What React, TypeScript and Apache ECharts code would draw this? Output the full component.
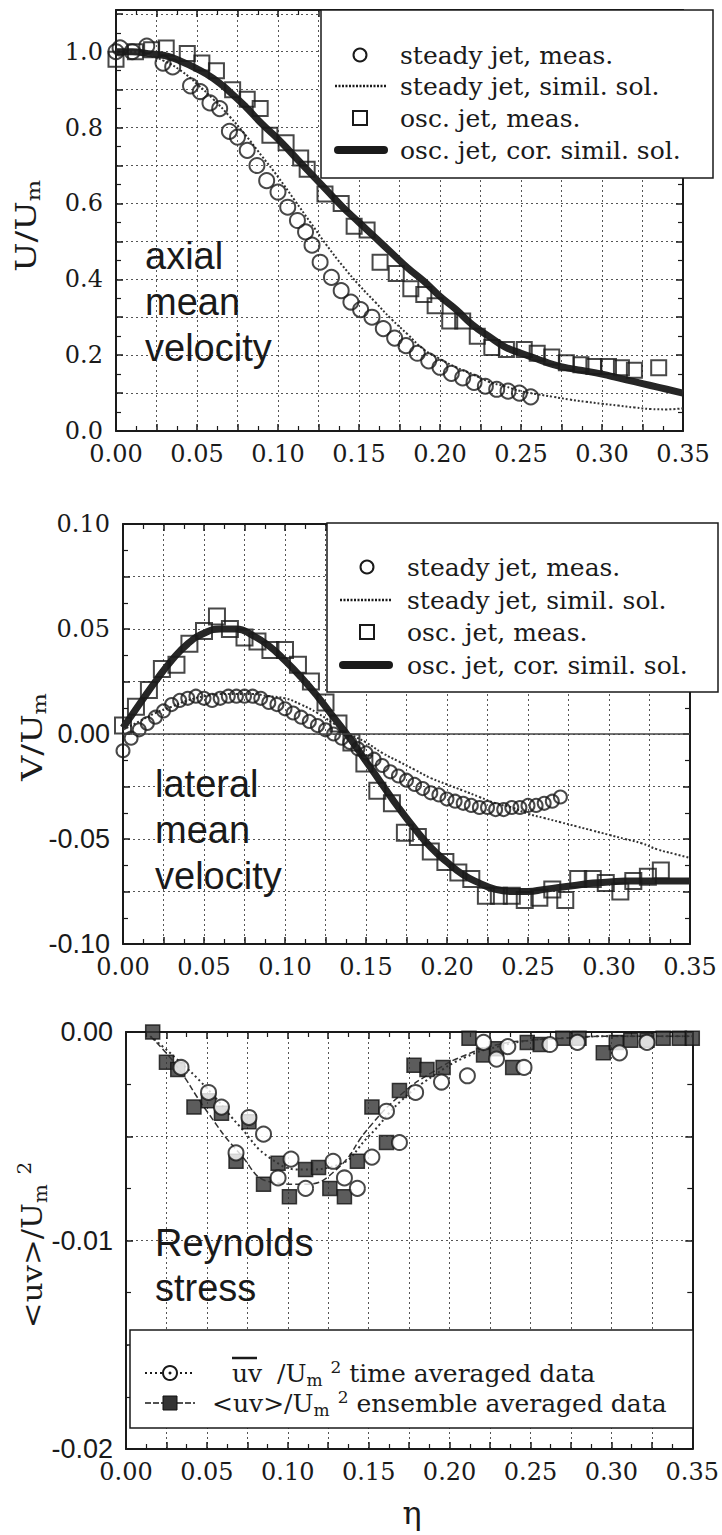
import React, { useEffect, useRef } from "react";
import * as echarts from "echarts";

// ---------- data (eta, value) ----------
const U_STEADY_MEAS = [[0,1.0],[0.0025,1.01],[0.01,1.0],[0.019,1.015],[0.029,0.97],[0.035,0.96],[0.046,0.91],[0.052,0.895],[0.058,0.865],[0.064,0.85],[0.07,0.79],[0.075,0.775],[0.081,0.74],[0.087,0.70],[0.093,0.66],[0.1,0.63],[0.106,0.59],[0.112,0.555],[0.117,0.525],[0.121,0.49],[0.126,0.445],[0.133,0.405],[0.139,0.37],[0.145,0.34],[0.151,0.32],[0.158,0.30],[0.165,0.27],[0.172,0.245],[0.179,0.225],[0.186,0.205],[0.193,0.185],[0.2,0.168],[0.207,0.152],[0.214,0.14],[0.221,0.128],[0.228,0.118],[0.235,0.11],[0.242,0.105],[0.249,0.1],[0.256,0.09]];
const U_STEADY_SIM = [[0,1.0],[0.01,1.0],[0.02,0.99],[0.03,0.975],[0.04,0.95],[0.05,0.915],[0.06,0.875],[0.07,0.83],[0.08,0.78],[0.09,0.725],[0.10,0.67],[0.11,0.61],[0.12,0.55],[0.13,0.49],[0.14,0.435],[0.15,0.385],[0.16,0.34],[0.17,0.295],[0.18,0.255],[0.19,0.215],[0.20,0.19],[0.21,0.168],[0.22,0.15],[0.23,0.13],[0.24,0.118],[0.25,0.105],[0.26,0.097],[0.27,0.09],[0.28,0.083],[0.29,0.077],[0.30,0.072],[0.31,0.067],[0.32,0.062],[0.33,0.058],[0.34,0.057],[0.35,0.06]];
const U_OSC_MEAS = [[0,0.98],[0.012,1.0],[0.022,1.005],[0.031,1.01],[0.044,0.995],[0.053,0.97],[0.062,0.95],[0.072,0.9],[0.081,0.875],[0.089,0.85],[0.095,0.78],[0.105,0.76],[0.114,0.72],[0.118,0.69],[0.129,0.625],[0.139,0.6],[0.147,0.54],[0.155,0.53],[0.163,0.445],[0.173,0.415],[0.182,0.375],[0.19,0.36],[0.197,0.33],[0.206,0.29],[0.214,0.29],[0.223,0.25],[0.232,0.22],[0.241,0.215],[0.252,0.215],[0.26,0.205],[0.269,0.195],[0.278,0.18],[0.287,0.175],[0.295,0.17],[0.304,0.17],[0.312,0.167],[0.32,0.16],[0.335,0.167]];
const U_OSC_SIM = [[0,1.0],[0.01,1.0],[0.02,0.995],[0.03,0.99],[0.04,0.975],[0.05,0.955],[0.06,0.93],[0.07,0.895],[0.08,0.855],[0.09,0.81],[0.10,0.77],[0.11,0.725],[0.12,0.68],[0.13,0.635],[0.14,0.59],[0.15,0.55],[0.16,0.51],[0.17,0.47],[0.18,0.43],[0.19,0.395],[0.20,0.355],[0.21,0.32],[0.22,0.28],[0.23,0.25],[0.24,0.222],[0.25,0.205],[0.26,0.19],[0.27,0.175],[0.28,0.165],[0.29,0.158],[0.30,0.15],[0.31,0.14],[0.32,0.13],[0.33,0.12],[0.34,0.11],[0.35,0.10]];

const V_STEADY_MEAS = [[0,-0.008],[0.005,-0.002],[0.01,0.002],[0.015,0.005],[0.02,0.008],[0.025,0.011],[0.03,0.014],[0.035,0.016],[0.04,0.017],[0.045,0.018],[0.05,0.017],[0.055,0.016],[0.06,0.017],[0.065,0.018],[0.07,0.018],[0.075,0.018],[0.08,0.018],[0.085,0.017],[0.09,0.015],[0.095,0.014],[0.10,0.012],[0.105,0.010],[0.11,0.008],[0.115,0.006],[0.12,0.004],[0.125,0.002],[0.13,0.0],[0.135,-0.002],[0.14,-0.004],[0.145,-0.007],[0.15,-0.009],[0.155,-0.012],[0.16,-0.015],[0.165,-0.018],[0.17,-0.020],[0.175,-0.022],[0.18,-0.024],[0.185,-0.026],[0.19,-0.028],[0.195,-0.029],[0.20,-0.031],[0.205,-0.032],[0.21,-0.033],[0.215,-0.034],[0.22,-0.035],[0.225,-0.035],[0.23,-0.036],[0.235,-0.036],[0.24,-0.035],[0.245,-0.035],[0.25,-0.034],[0.255,-0.034],[0.26,-0.033],[0.265,-0.032],[0.27,-0.030]];
const V_STEADY_SIM = [[0,0.002],[0.01,0.006],[0.02,0.010],[0.03,0.013],[0.04,0.016],[0.05,0.018],[0.06,0.019],[0.07,0.019],[0.08,0.019],[0.09,0.018],[0.10,0.017],[0.11,0.014],[0.12,0.010],[0.13,0.005],[0.14,0.0],[0.15,-0.004],[0.16,-0.009],[0.17,-0.013],[0.18,-0.017],[0.19,-0.021],[0.20,-0.024],[0.21,-0.027],[0.22,-0.030],[0.23,-0.033],[0.24,-0.035],[0.25,-0.038],[0.26,-0.040],[0.27,-0.042],[0.28,-0.044],[0.29,-0.046],[0.30,-0.048],[0.31,-0.050],[0.32,-0.052],[0.33,-0.055],[0.34,-0.057],[0.35,-0.059]];
const V_OSC_MEAS = [[0,0.004],[0.008,0.013],[0.016,0.021],[0.024,0.031],[0.033,0.033],[0.041,0.043],[0.05,0.049],[0.058,0.056],[0.066,0.050],[0.075,0.046],[0.083,0.044],[0.091,0.040],[0.10,0.040],[0.108,0.033],[0.116,0.025],[0.125,0.015],[0.133,0.005],[0.141,-0.004],[0.149,-0.014],[0.157,-0.027],[0.166,-0.033],[0.174,-0.047],[0.182,-0.049],[0.19,-0.056],[0.199,-0.061],[0.207,-0.066],[0.215,-0.069],[0.224,-0.077],[0.232,-0.077],[0.24,-0.077],[0.248,-0.079],[0.257,-0.078],[0.265,-0.074],[0.273,-0.079],[0.281,-0.069],[0.29,-0.069],[0.298,-0.071],[0.307,-0.075],[0.315,-0.070],[0.324,-0.068],[0.332,-0.065]];
const V_OSC_SIM = [[0,0.003],[0.01,0.014],[0.02,0.025],[0.03,0.035],[0.04,0.043],[0.05,0.048],[0.06,0.050],[0.07,0.050],[0.08,0.047],[0.09,0.042],[0.10,0.035],[0.11,0.027],[0.12,0.018],[0.13,0.008],[0.14,-0.002],[0.15,-0.013],[0.16,-0.024],[0.17,-0.035],[0.18,-0.045],[0.19,-0.054],[0.20,-0.061],[0.21,-0.067],[0.22,-0.071],[0.23,-0.074],[0.24,-0.075],[0.25,-0.075],[0.26,-0.074],[0.27,-0.073],[0.28,-0.072],[0.29,-0.071],[0.30,-0.0705],[0.31,-0.070],[0.32,-0.070],[0.33,-0.070],[0.34,-0.070],[0.35,-0.070]];

const UV_TIME_MEAS = [[0.034,-0.0017],[0.051,-0.0029],[0.059,-0.0036],[0.068,-0.0058],[0.076,-0.0041],[0.085,-0.0049],[0.094,-0.0070],[0.102,-0.0061],[0.111,-0.0075],[0.128,-0.0062],[0.135,-0.0070],[0.143,-0.0075],[0.152,-0.0060],[0.161,-0.0038],[0.169,-0.0053],[0.179,-0.0029],[0.195,-0.0024],[0.211,-0.0021],[0.221,-0.0005],[0.229,-0.0013],[0.236,-0.0007],[0.246,-0.0017],[0.262,-0.0006],[0.279,-0.0005],[0.305,-0.0010],[0.322,-0.0005]];
const UV_ENS_MEAS = [[0.0165,0.0],[0.025,-0.00145],[0.032,-0.0018],[0.042,-0.0036],[0.051,-0.0033],[0.059,-0.0039],[0.068,-0.0062],[0.076,-0.0043],[0.085,-0.0073],[0.094,-0.0063],[0.101,-0.0079],[0.111,-0.0066],[0.119,-0.0065],[0.126,-0.0075],[0.135,-0.0079],[0.143,-0.0062],[0.152,-0.0036],[0.161,-0.0053],[0.169,-0.0028],[0.178,-0.0016],[0.186,-0.0018],[0.196,-0.0017],[0.212,-0.0003],[0.221,-0.0011],[0.229,-0.0008],[0.239,-0.0017],[0.248,-0.0005],[0.256,-0.0006],[0.27,-0.0003],[0.28,-0.0003],[0.295,-0.0010],[0.303,-0.0005],[0.312,-0.0004],[0.322,-0.0004],[0.332,-0.0003],[0.342,-0.0003],[0.35,-0.0003]];
const UV_TIME_FIT = [[0.015,-0.0002],[0.03,-0.0012],[0.05,-0.0027],[0.07,-0.0045],[0.09,-0.0061],[0.11,-0.0066],[0.13,-0.0064],[0.15,-0.0050],[0.17,-0.0033],[0.19,-0.0021],[0.21,-0.0012],[0.23,-0.0007],[0.25,-0.0004],[0.27,-0.0003],[0.30,-0.0002],[0.35,-0.0002]];
const UV_ENS_FIT = [[0.015,-0.0002],[0.03,-0.0015],[0.05,-0.0038],[0.07,-0.0058],[0.09,-0.0072],[0.11,-0.0073],[0.13,-0.0066],[0.15,-0.0046],[0.17,-0.0030],[0.19,-0.0019],[0.21,-0.0011],[0.23,-0.0006],[0.25,-0.0004],[0.27,-0.0003],[0.30,-0.0002],[0.35,-0.0002]];

const VEL_LEGEND = ["steady jet, meas.", "steady jet, simil. sol.", "osc. jet, meas.", "osc. jet, cor. simil. sol."];
const TOP_NOTE = ["axial", "mean", "velocity"];
const MID_NOTE = ["lateral", "mean", "velocity"];
const BOT_NOTE = ["Reynolds", "stress"];

// ---------- styling ----------
const INK = "#1a1a1a";
const SERIF = "DejaVu Serif";
const SANS = "Liberation Sans";
const GRIDLINE = { type: [2, 3] as any, color: "#555", width: 1 };

const near = (v: number, step: number) => Math.abs(v / step - Math.round(v / step)) < 1e-6;
const fmtX = (v: number) => (near(v, 0.05) ? v.toFixed(2) : "");

function axesFor(g: number, yMin: number, yMax: number, yInt: number, yFmt: (v: number) => string, yRich: any) {
  const line = { show: true, onZero: false, lineStyle: { color: INK, width: 2 } };
  const tick = { show: true, inside: true, length: 7, lineStyle: { color: INK, width: 1.5 } };
  const minor = { show: true, splitNumber: 2, length: 5, lineStyle: { color: INK, width: 1.2 } };
  const xs = [
    { type: "value", gridIndex: g, position: "bottom", min: 0, max: 0.35, interval: 0.025, axisLine: line, axisTick: tick, minorTick: minor,
      splitLine: { show: true, lineStyle: GRIDLINE },
      axisLabel: { show: true, margin: 11, formatter: fmtX, showMinLabel: true, showMaxLabel: true, hideOverlap: false,
        fontFamily: SERIF, fontSize: 24, color: INK } },
    { type: "value", gridIndex: g, position: "top", min: 0, max: 0.35, interval: 0.025, axisLine: line, axisTick: tick, minorTick: minor,
      splitLine: { show: false }, axisLabel: { show: false } },
  ];
  const ys = [
    { type: "value", gridIndex: g, position: "left", min: yMin, max: yMax, interval: yInt, axisLine: line, axisTick: tick, minorTick: minor,
      splitLine: { show: true, lineStyle: GRIDLINE },
      axisLabel: { show: true, margin: 13, formatter: yFmt, showMinLabel: true, showMaxLabel: true, hideOverlap: false,
        fontFamily: SERIF, fontSize: 24, color: INK, rich: yRich } },
    { type: "value", gridIndex: g, position: "right", min: yMin, max: yMax, interval: yInt, axisLine: line, axisTick: tick, minorTick: minor,
      splitLine: { show: false }, axisLabel: { show: false } },
  ];
  return { xs, ys };
}

const hollow = (symbol: string, size: number) => ({
  type: "scatter", symbol, symbolSize: size,
  itemStyle: { color: "rgba(0,0,0,0)", borderColor: INK, borderWidth: 2 },
});

function velLegend(bx: number, by: number, bw: number, bh: number, rows: number[], symX: number, l0: number, l1: number, tx: number) {
  const Z = 100;
  const els: any[] = [
    { type: "rect", z: Z, shape: { x: bx, y: by, width: bw, height: bh }, style: { fill: "#fff", stroke: INK, lineWidth: 1.5 } },
    { type: "circle", z: Z + 1, shape: { cx: symX, cy: rows[0], r: 6.5 }, style: { fill: "none", stroke: INK, lineWidth: 2 } },
    { type: "line", z: Z + 1, shape: { x1: l0, y1: rows[1], x2: l1, y2: rows[1] }, style: { stroke: INK, lineWidth: 2.5, lineDash: [2, 1.5] } },
    { type: "rect", z: Z + 1, shape: { x: symX - 7, y: rows[2] - 7, width: 14, height: 14 }, style: { fill: "none", stroke: INK, lineWidth: 2 } },
    { type: "line", z: Z + 1, shape: { x1: l0 + 3, y1: rows[3], x2: l1 - 3, y2: rows[3] }, style: { stroke: INK, lineWidth: 8, lineCap: "round" } },
  ];
  VEL_LEGEND.forEach((t, i) => {
    els.push({ type: "text", z: Z + 1, x: tx, y: rows[i], style: { text: t, fontFamily: SERIF, fontSize: 25, fill: INK, align: "left", verticalAlign: "middle" } });
  });
  return els;
}

function note(lines: string[], x: number, ys: number[]) {
  return lines.map((t, i) => ({
    type: "text", z: 50, x, y: ys[i],
    style: { text: t, fontFamily: SANS, fontSize: 38, fill: INK, align: "left", verticalAlign: "middle" },
  }));
}

const TITLE_RICH = {
  a: { fontFamily: SERIF, fontSize: 28, lineHeight: 34, fill: INK, color: INK },
  m: { fontFamily: SERIF, fontSize: 18, lineHeight: 18, verticalAlign: "bottom", fill: INK, color: INK },
  s: { fontFamily: SERIF, fontSize: 18, lineHeight: 20, verticalAlign: "top", fill: INK, color: INK },
};
const yTitle = (text: string, x: number, y: number, sx: number) => ({
  type: "text", z: 50, x, y, rotation: Math.PI / 2, scaleX: sx, scaleY: 1,
  style: { text, rich: TITLE_RICH, align: "center", verticalAlign: "middle", fill: INK },
});

const LEG_RICH = {
  a: { fontFamily: SERIF, fontSize: 25, lineHeight: 30, fill: INK, color: INK },
  m: { fontFamily: SERIF, fontSize: 17, lineHeight: 16, verticalAlign: "bottom", fill: INK, color: INK },
  s: { fontFamily: SERIF, fontSize: 17, lineHeight: 22, verticalAlign: "top", fill: INK, color: INK },
};

const SANS_TICK = { n: { fontFamily: SANS, fontSize: 27, color: INK } };

export default function App() {
  const ref = useRef<HTMLDivElement>(null);
  useEffect(() => {
    document.body.style.margin = "0";
    const chart = echarts.init(ref.current!, null, { renderer: "svg" });

    const a0 = axesFor(0, 0, 1.11, 0.1, (v) => (near(v, 0.2) && v < 1.05 ? v.toFixed(1) : ""), undefined);
    const a1 = axesFor(1, -0.1, 0.1, 0.025, (v) => {
      if (!near(v, 0.05)) return "";
      const s = Math.abs(v) < 1e-9 ? "0.00" : v.toFixed(2);
      return v > 0.01 ? s : "{n|" + s + "}";
    }, SANS_TICK);
    const a2 = axesFor(2, -0.02, 0, 0.005, (v) => {
      if (!near(v, 0.01)) return "";
      const s = Math.abs(v) < 1e-9 ? "0.00" : v.toFixed(2);
      return "{n|" + s + "}";
    }, SANS_TICK);

    const option: any = {
      animation: false,
      backgroundColor: "#fff",
      grid: [
        { left: 116, top: 10, width: 567, height: 421 },
        { left: 123, top: 524, width: 567, height: 420 },
        { left: 126, top: 1032, width: 568, height: 417 },
      ],
      xAxis: [...a0.xs, ...a1.xs, ...a2.xs],
      yAxis: [...a0.ys, ...a1.ys, ...a2.ys],
      series: [
        // top: axial mean velocity
        { type: "line", xAxisIndex: 0, yAxisIndex: 0, data: U_OSC_SIM, showSymbol: false, smooth: true, lineStyle: { color: "#262626", width: 7 }, z: 3 },
        { type: "line", xAxisIndex: 0, yAxisIndex: 0, data: U_STEADY_SIM, showSymbol: false, smooth: true, lineStyle: { color: "#333", width: 2, type: [2, 2] }, z: 3 },
        { ...hollow("rect", 15), xAxisIndex: 0, yAxisIndex: 0, data: U_OSC_MEAS, z: 4 },
        { ...hollow("circle", 15), xAxisIndex: 0, yAxisIndex: 0, data: U_STEADY_MEAS, z: 4 },
        // middle: lateral mean velocity
        { type: "line", xAxisIndex: 2, yAxisIndex: 2, data: V_STEADY_SIM, showSymbol: false, smooth: true, lineStyle: { color: "#333", width: 2, type: [2, 2] }, z: 3,
          markLine: { silent: true, symbol: ["none", "none"], label: { show: false }, lineStyle: { type: "solid", color: "#444", width: 1.5 }, data: [{ yAxis: 0 }] } },
        { type: "line", xAxisIndex: 2, yAxisIndex: 2, data: V_OSC_SIM, showSymbol: false, smooth: true, lineStyle: { color: "#262626", width: 7 }, z: 3 },
        { ...hollow("rect", 16), xAxisIndex: 2, yAxisIndex: 2, data: V_OSC_MEAS, z: 4 },
        { ...hollow("circle", 13), xAxisIndex: 2, yAxisIndex: 2, data: V_STEADY_MEAS, z: 4 },
        // bottom: Reynolds stress
        { type: "line", xAxisIndex: 4, yAxisIndex: 4, data: UV_TIME_FIT, showSymbol: false, smooth: true, lineStyle: { color: "#333", width: 2, type: [2, 3] }, z: 3 },
        { type: "line", xAxisIndex: 4, yAxisIndex: 4, data: UV_ENS_FIT, showSymbol: false, smooth: true, lineStyle: { color: "#333", width: 1.5, type: [6, 3] }, z: 3 },
        { type: "scatter", symbol: "rect", symbolSize: 14, xAxisIndex: 4, yAxisIndex: 4, data: UV_ENS_MEAS, z: 4,
          itemStyle: { color: "#333", borderColor: "#111", borderWidth: 1.5 } },
        { type: "scatter", symbol: "circle", symbolSize: 15, xAxisIndex: 4, yAxisIndex: 4, data: UV_TIME_MEAS, z: 5,
          itemStyle: { color: "#fff", borderColor: INK, borderWidth: 2 } },
      ],
      graphic: [
        ...velLegend(321, 10, 392, 168, [55, 86, 118, 150], 360, 335, 387, 400),
        ...velLegend(327, 523, 391, 169, [567, 600, 632, 665], 367, 340, 392, 407),
        // bottom legend
        { type: "rect", z: 100, shape: { x: 130, y: 1330, width: 563, height: 98 }, style: { fill: "#fff", stroke: INK, lineWidth: 1.5 } },
        { type: "line", z: 101, shape: { x1: 145, y1: 1373, x2: 195, y2: 1373 }, style: { stroke: INK, lineWidth: 2, lineDash: [2, 3] } },
        { type: "circle", z: 102, shape: { cx: 170, cy: 1373, r: 7 }, style: { fill: "#fff", stroke: INK, lineWidth: 2 } },
        { type: "circle", z: 103, shape: { cx: 170, cy: 1373, r: 1.5 }, style: { fill: INK } },
        { type: "line", z: 101, shape: { x1: 145, y1: 1403, x2: 195, y2: 1403 }, style: { stroke: INK, lineWidth: 1.5, lineDash: [6, 2] } },
        { type: "rect", z: 102, shape: { x: 163, y: 1396, width: 14, height: 14 }, style: { fill: "#333", stroke: "#111", lineWidth: 1 } },
        { type: "line", z: 101, shape: { x1: 232, y1: 1358, x2: 257, y2: 1358 }, style: { stroke: INK, lineWidth: 2.5 } },
        { type: "text", z: 101, x: 232, y: 1373, style: { text: "{a|uv}", rich: LEG_RICH, align: "left", verticalAlign: "middle" } },
        { type: "text", z: 101, x: 277, y: 1373, style: { text: "{a|/U}{m|m}{a| }{s|2}{a| time averaged data}", rich: LEG_RICH, align: "left", verticalAlign: "middle" } },
        { type: "text", z: 101, x: 212, y: 1403, style: { text: "{a|<uv>/U}{m|m}{a| }{s|2}{a| ensemble averaged data}", rich: LEG_RICH, align: "left", verticalAlign: "middle" } },
        // annotations
        ...note(TOP_NOTE, 145, [256, 302, 348]),
        ...note(MID_NOTE, 155, [784, 830, 876]),
        ...note(BOT_NOTE, 155, [1243, 1288]),
        // axis titles
        yTitle("{a|U/U}{m|m}", 26, 226, 1.25),
        yTitle("{a|V/U}{m|m}", 32, 737, 1.25),
        yTitle("{a|<uv>/U}{m|m}{a| }{s|2}", 32, 1245, 1.1),
        { type: "text", z: 50, x: 412, y: 1513, style: { text: "η", fontFamily: SERIF, fontSize: 32, fill: INK, align: "center", verticalAlign: "middle" } },
      ],
    };
    chart.setOption(option);
    return () => chart.dispose();
  }, []);
  return <div ref={ref} style={{ width: 722, height: 1535, background: "#fff" }} />;
}
